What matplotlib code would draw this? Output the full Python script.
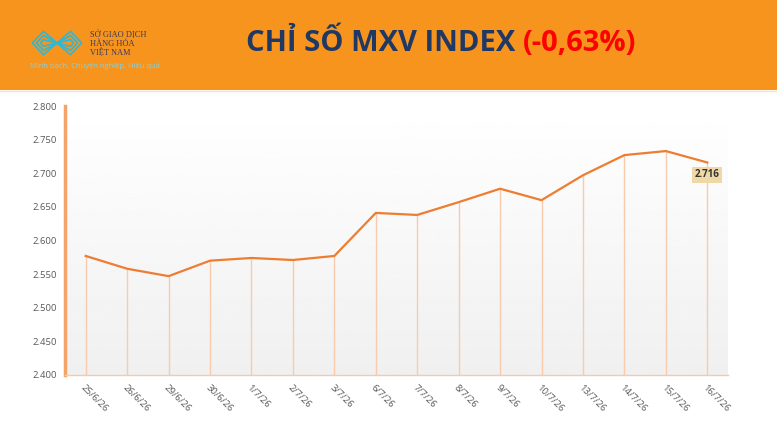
import numpy as np
import matplotlib.pyplot as plt
from matplotlib.patches import Rectangle

plt.rcParams['font.family'] = ['Open Sans', 'DejaVu Sans']

dates = ['25/6/26', '26/6/26', '29/6/26', '30/6/26', '1/7/26', '2/7/26', '3/7/26', '6/7/26',
         '7/7/26', '8/7/26', '9/7/26', '10/7/26', '13/7/26', '14/7/26', '15/7/26', '16/7/26']
values = [2577, 2558, 2547, 2570, 2574, 2571, 2577, 2641,
          2638, 2657, 2677, 2660, 2697, 2727, 2733, 2716]
yticks = [2400, 2450, 2500, 2550, 2600, 2650, 2700, 2750, 2800]
ytick_labels = ['2.400', '2.450', '2.500', '2.550', '2.600', '2.650', '2.700', '2.750', '2.800']
title_main = 'CHỈ SỐ MXV INDEX '
title_change = '(-0,63%)'
last_label = '2.716'

fig = plt.figure(figsize=(7.77, 4.37), dpi=100)
fig.patch.set_facecolor('white')

# orange header band
fig.patches.append(Rectangle((0, 1 - 90 / 437), 1, 90 / 437, transform=fig.transFigure,
                             facecolor='#F7941D', edgecolor='none', zorder=-5))
fig.lines.append(plt.Line2D([0, 1], [1 - 91 / 437] * 2, transform=fig.transFigure,
                            color='#FCE3B8', lw=1, zorder=-4))

# logo (rough sketch of the zigzag mark)
lx = fig.add_axes([30 / 777, 1 - 57 / 437, 54 / 777, 28 / 437])
lx.set_xlim(0, 12)
lx.set_ylim(0, 6)
lx.axis('off')
for k in range(3):
    off = k * 0.9
    xs = np.array([0.5 + off, 3, 6, 9, 11.5 - off])
    lx.plot(xs, [3, 5.5 - off, 3, 5.5 - off, 3], color='#2EB8D8', lw=1.2, solid_capstyle='butt')
    lx.plot(xs, [3, 0.5 + off, 3, 0.5 + off, 3], color='#2EB8D8', lw=1.2, solid_capstyle='butt')
for i, s in enumerate(['SỞ GIAO DỊCH', 'HÀNG HÓA', 'VIỆT NAM']):
    fig.text(90 / 777, 1 - (35 + 9 * i) / 437, s, fontsize=6, color='#3A3A5A', va='center',
             family=['Liberation Serif', 'DejaVu Serif'])
fig.text(30 / 777, 1 - 66 / 437, 'Minh bạch, Chuyên nghiệp, Hiệu quả', fontsize=5.5,
         color='#7FD3E6', va='center')

# title
t1 = fig.text(0.317, 0.9, title_main, fontsize=21, fontweight='bold', color='#1F3864', va='center')
fig.canvas.draw()
bb = t1.get_window_extent()
fig.text(bb.x1 / fig.bbox.width, 0.9, title_change, fontsize=21, fontweight='bold',
         color='#FF0000', va='center')

ax = fig.add_axes([65 / 777, 1 - 375 / 437, (728 - 65) / 777, (375 - 106) / 437])
x = np.arange(len(dates))
ax.set_xlim(-0.5, len(dates) - 0.5)
ax.set_ylim(2400, 2800)

grad = np.linspace(0.94, 1.0, 100).reshape(-1, 1)
ax.imshow(grad, extent=[-0.5, len(dates) - 0.5, 2400, 2800], aspect='auto', origin='lower',
          cmap='gray', vmin=0, vmax=1, zorder=0)

ax.vlines(x, 2400, values, color='#F8CBAD', lw=1, zorder=1)
ax.plot(x, values, color='#ED7D31', lw=1.6, zorder=2)

ax.annotate(last_label, (x[-1], values[-1]), xytext=(0, -5), textcoords='offset points',
            ha='center', va='top', fontsize=7, fontweight='bold', color='#333333',
            bbox=dict(boxstyle='square,pad=0.25', fc='#EED9A6', ec='none'), zorder=3)

ax.set_yticks(yticks)
ax.set_yticklabels(ytick_labels)
ax.set_xticks(x)
ax.set_xticklabels(dates, rotation=-45, ha='left', rotation_mode='anchor')
ax.tick_params(axis='both', length=0, labelsize=6.8, colors='#595959')
ax.tick_params(axis='x', pad=6)
ax.tick_params(axis='y', pad=6)
for s in ['top', 'right']:
    ax.spines[s].set_visible(False)
ax.spines['left'].set_color('#F4A46A')
ax.spines['left'].set_linewidth(2.5)
ax.spines['bottom'].set_color('#F8C9A4')
ax.spines['bottom'].set_linewidth(1)

fig.savefig('out.png', dpi=100)
